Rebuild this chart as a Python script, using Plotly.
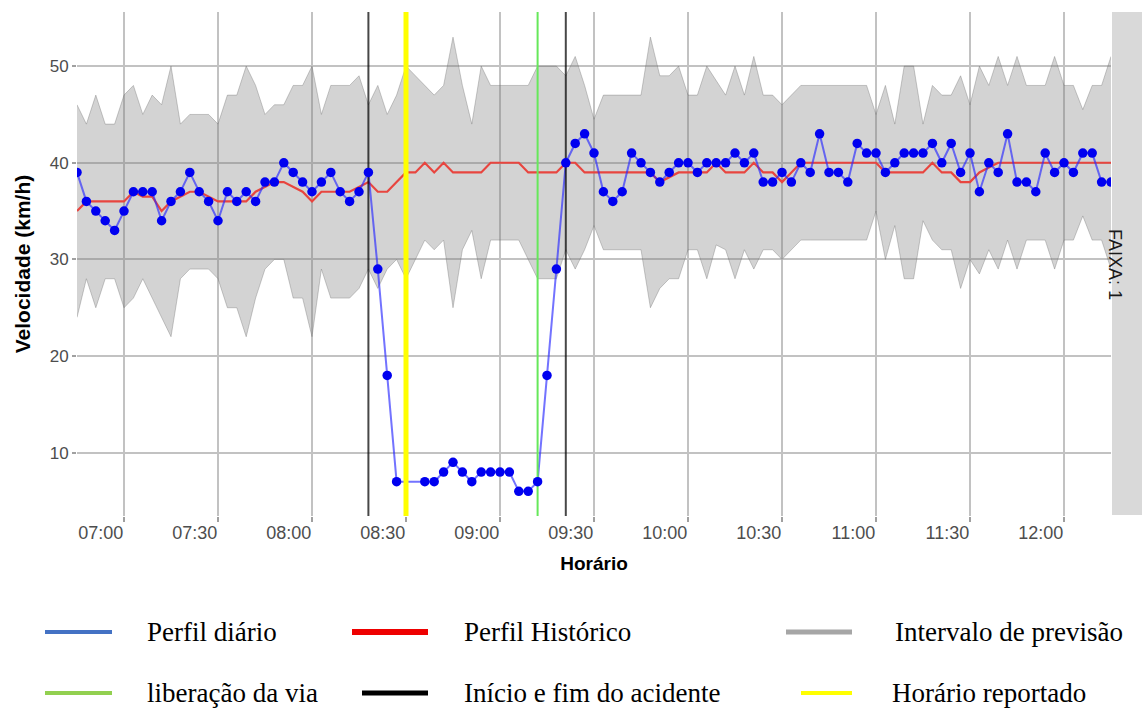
import pandas as pd
import plotly.graph_objects as go

# ---------------- data ----------------
hora = pd.date_range("2021-01-01 06:45", "2021-01-01 12:15", freq="3min")  # 111 instants

perfil_diario = [39, 36, 35, 34, 33, 35, 37, 37, 37, 34, 36, 37, 39, 37, 36, 34, 37, 36, 37, 36,
                 38, 38, 40, 39, 38, 37, 38, 39, 37, 36, 37, 39, 29, 18, 7, None, None, 7, 7, 8,
                 9, 8, 7, 8, 8, 8, 8, 6, 6, 7, 18, 29, 40, 42, 43, 41, 37, 36, 37, 41,
                 40, 39, 38, 39, 40, 40, 39, 40, 40, 40, 41, 40, 41, 38, 38, 39, 38, 40, 39, 43,
                 39, 39, 38, 42, 41, 41, 39, 40, 41, 41, 41, 42, 40, 42, 39, 41, 37, 40, 39, 43,
                 38, 38, 37, 41, 39, 40, 39, 41, 41, 38, 38]

perfil_historico = [35, 36, 36, 36, 36, 36, 37, 36.5, 36.5, 35, 36, 36.5, 37, 37, 36.5, 36, 36, 36, 36, 37,
                    37.5, 38, 38, 37.5, 37, 36, 37, 37, 37, 37, 37.5, 38, 37, 37, 38, 39, 39, 40, 39, 40,
                    39, 39, 39, 39, 40, 40, 40, 40, 39, 39, 39, 39, 40, 40, 39, 39, 39, 39, 39, 39,
                    39, 39, 38, 38.5, 39, 39, 39, 39, 40, 39, 39, 39, 40, 39, 39, 38, 39, 40, 40, 40,
                    40, 40, 40, 40, 40, 40, 39, 39, 39, 39, 39, 40, 39, 39, 38, 38, 39, 39.5, 40, 40,
                    40, 40, 40, 40, 40, 40, 40, 40, 40, 40, 40]

limite_superior = [46, 44, 47, 44, 44, 47, 48, 45, 47, 46, 50, 44, 45, 45, 45, 44, 47, 47, 50, 48,
                   45, 46, 46, 48, 48, 50, 45, 48, 48, 48, 49, 46, 48, 45, 47, 50, 49, 48, 47, 48,
                   53, 48, 44, 50, 48, 48, 48, 48, 48, 50, 50, 50, 49, 51, 48, 44.5, 47, 47, 47, 47,
                   47, 53, 49, 49, 50, 47, 47, 50, 48.5, 47, 50, 47, 51, 47, 47, 46, 47, 48, 48, 48,
                   48, 48, 48, 48, 48, 45, 48, 44, 50, 50, 44, 48, 47, 47, 49, 46, 50, 48, 51, 48,
                   51, 48, 48, 48, 51, 48, 48, 45.5, 48, 48, 51]

limite_inferior = [24, 28, 25, 28, 28, 25, 26, 28, 26, 24, 22, 28, 29, 29, 29, 28, 25, 25, 22, 26,
                   29, 30, 30, 26, 26, 22, 29, 26, 26, 26, 27, 29, 27, 29, 30, 28, 30, 32, 31, 32,
                   25, 31, 33, 28, 32, 32, 32, 32, 30, 28, 28, 28, 31, 29, 31, 33.5, 31, 31, 31, 31,
                   31, 25, 27, 28, 28, 31, 31, 28, 31.5, 31, 28, 31, 29, 31, 31, 30, 31, 32, 32, 32,
                   32, 32, 32, 32, 32, 35, 30, 33.5, 28, 28, 34, 32, 31, 31, 27, 30, 28.5, 31, 29, 32,
                   29, 32, 32, 32, 29, 32, 32, 34.5, 32, 32, 29]

inicio_fim_acidente = ["2021-01-01 08:18", "2021-01-01 09:21"]
horario_reportado = "2021-01-01 08:30"
liberacao_via = "2021-01-01 09:12"

y_ticks = [10, 20, 30, 40, 50]

legenda = [
    ("Perfil diário", "#4472c4", 4, 0),
    ("Perfil Histórico", "#ee0000", 6, 1),
    ("Intervalo de previsão", "#a6a6a6", 5, 2),
    ("liberação da via", "#92d050", 4, 0),
    ("Início e fim do acidente", "#000000", 5, 1),
    ("Horário reportado", "#ffff00", 4, 2),
]

# ---------------- layout geometry ----------------
W, H = 1142, 708
L, R, T, B = 77, 31, 12, 192
PW, PH = W - L - R, H - T - B
Y_RANGE = [3.45, 55.6]
X_RANGE = [hora[0], hora[-1]]


def px(xp):
    return (xp - L) / PW


def py(yp):
    return (H - B - yp) / PH


fig = go.Figure()

# prediction interval band
fig.add_trace(go.Scatter(x=hora, y=limite_inferior, mode="lines",
                         line=dict(color="rgba(110,110,110,0.45)", width=0.8),
                         hoverinfo="skip", showlegend=False))
fig.add_trace(go.Scatter(x=hora, y=limite_superior, mode="lines", fill="tonexty",
                         fillcolor="rgba(120,120,120,0.33)",
                         line=dict(color="rgba(110,110,110,0.45)", width=0.8),
                         name="Intervalo de previsão", showlegend=False))

# historical profile
fig.add_trace(go.Scatter(x=hora, y=perfil_historico, mode="lines",
                         line=dict(color="#e8453f", width=2.2),
                         name="Perfil Histórico", showlegend=False))

# daily profile line
fig.add_trace(go.Scatter(x=hora, y=perfil_diario, mode="lines", connectgaps=True,
                         line=dict(color="rgba(40,40,255,0.65)", width=2),
                         name="Perfil diário", showlegend=False))

# vertical event lines
for t in inicio_fim_acidente:
    fig.add_trace(go.Scatter(x=[t, t], y=Y_RANGE, mode="lines",
                             line=dict(color="rgba(0,0,0,0.72)", width=2),
                             hoverinfo="skip", showlegend=False))
fig.add_trace(go.Scatter(x=[liberacao_via, liberacao_via], y=Y_RANGE, mode="lines",
                         line=dict(color="#66e85a", width=2), hoverinfo="skip", showlegend=False))
fig.add_trace(go.Scatter(x=[horario_reportado, horario_reportado], y=Y_RANGE, mode="lines",
                         line=dict(color="#ffff00", width=5), hoverinfo="skip", showlegend=False))

# daily profile points
fig.add_trace(go.Scatter(x=hora, y=perfil_diario, mode="markers",
                         marker=dict(color="#0000f0", size=9.5),
                         name="Perfil diário", showlegend=False))

axis_font = dict(family="Liberation Sans, Arial, sans-serif", size=17, color="#4d4d4d")

fig.update_layout(
    width=W, height=H,
    margin=dict(l=L, r=R, t=T, b=B, pad=0),
    paper_bgcolor="white", plot_bgcolor="white",
    showlegend=False,
    xaxis=dict(
        type="date", range=X_RANGE, tickformat="%H:%M",
        tick0="2021-01-01 07:00", dtick=30 * 60 * 1000,
        ticklabelposition="outside left",
        showgrid=True, gridcolor="#c2c2c2", gridwidth=1.5,
        ticks="outside", ticklen=5, tickcolor="#a0a0a0", tickwidth=1.5,
        tickfont=dict(family=axis_font["family"], size=18, color="#4d4d4d"),
        zeroline=False, showline=False,
        title=dict(text="<b>Horário</b>",
                   font=dict(family=axis_font["family"], size=19, color="#000000"),
                   standoff=15),
    ),
    yaxis=dict(
        range=Y_RANGE, tickvals=y_ticks,
        showgrid=True, gridcolor="#c2c2c2", gridwidth=1.5,
        ticks="outside", ticklen=4, tickcolor="#a0a0a0", tickwidth=1.5,
        tickfont=axis_font, zeroline=False, showline=False,
        title=dict(text="<b>Velocidade (km/h)</b>",
                   font=dict(family=axis_font["family"], size=21, color="#000000"),
                   standoff=13),
    ),
)

# facet strip on the right
fig.add_shape(type="rect", xref="paper", yref="paper",
              x0=px(1112), x1=px(1145), y0=py(515), y1=1,
              fillcolor="#d9d9d9", line=dict(width=0), layer="below")
fig.add_annotation(text="FAIXA: 1", xref="paper", yref="paper",
                   x=px(1127), y=0.5, textangle=90, showarrow=False,
                   font=dict(family="Liberation Sans, Arial, sans-serif", size=18, color="#1a1a1a"))

# custom legend below the chart
col_line = [(45, 112), (352, 428), (786, 852)]
col_text = [145, 462, 893]
col_line2 = [(45, 112), (362, 428), (801, 852)]
col_text2 = [145, 462, 890]
rows_y = [632, 693]
for k, (label, color, lw, col) in enumerate(legenda):
    row = k // 3
    x0, x1 = (col_line if row == 0 else col_line2)[col]
    xt = (col_text if row == 0 else col_text2)[col]
    yy = rows_y[row]
    fig.add_shape(type="line", xref="paper", yref="paper",
                  x0=px(x0), x1=px(x1), y0=py(yy), y1=py(yy),
                  line=dict(color=color, width=lw))
    fig.add_annotation(text=label, xref="paper", yref="paper", x=px(xt), y=py(yy),
                       xanchor="left", yanchor="middle", showarrow=False,
                       font=dict(family="Liberation Serif, Times New Roman, serif", size=27,
                                 color="#000000"))

fig.write_html("out.html")
